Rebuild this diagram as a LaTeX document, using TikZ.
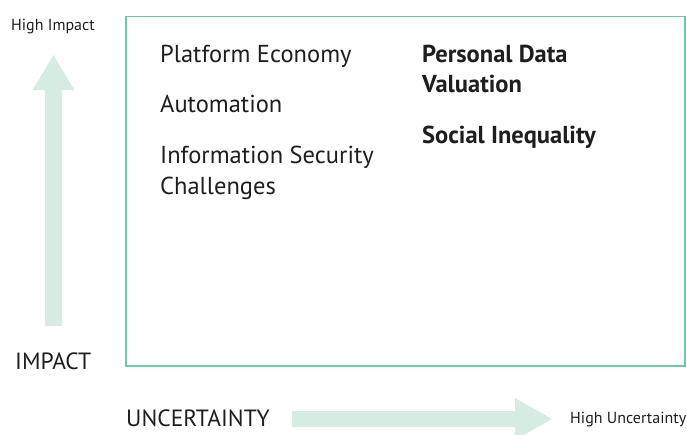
\documentclass[tikz,border=0pt]{standalone}
\usepackage{fontspec}
\setmainfont{PT Sans}
\definecolor{framegreen}{HTML}{6CC9A8}
\definecolor{arrowmint}{HTML}{D6ECE0}
\definecolor{inkgray}{HTML}{1E1E1E}
\tikzset{
  item/.style={anchor=base west, inner sep=0pt, align=left, text=inkgray,
    font=\fontsize{24.5}{31}\selectfont},
  hotitem/.style={item, font=\fontsize{24.5}{30}\selectfont\bfseries},
  axislabel/.style={anchor=base west, inner sep=0pt, text=inkgray,
    font=\fontsize{23.5}{28}\selectfont},
  endlabel/.style={anchor=base west, inner sep=0pt, text=inkgray,
    font=\fontsize{16}{18}\selectfont},
  bigarrow/.style={fill=arrowmint, draw=none}
}
\begin{document}
\begin{tikzpicture}[x=1pt, y=-1pt]
    \useasboundingbox (0,0) rectangle (687,434);

    % axis arrows
    \fill[bigarrow] (45,326) -- (45,90) -- (32.5,90) -- (53.5,55) -- (74.5,90) -- (62,90) -- (62,326) -- cycle;
    \fill[bigarrow] (292,411) -- (515,411) -- (515,398) -- (552,419) -- (515,440) -- (515,427) -- (292,427) -- cycle;

    % frame
    \draw[framegreen, line width=1.5pt] (126,16.5) rectangle (685,366);

    \node[endlabel] (highimpact) at (11,30) {High Impact};
    \node[axislabel] (impact) at (15,369) {IMPACT};
    \node[axislabel] (uncertainty) at (126,426) {UNCERTAINTY};
    \node[endlabel] (highuncert) at (570,423) {High Uncertainty};

    % base of the last line
    \node[item] (platform) at (160,62) {Platform Economy};
    \node[item] (automation) at (160,112) {Automation};
    \node[item] (infosec) at (160,194) {Information Security\\Challenges};

    \node[hotitem] (personal) at (422,92) {Personal Data\\Valuation};
    \node[hotitem] (social) at (422,143) {Social Inequality};
\end{tikzpicture}
\end{document}
